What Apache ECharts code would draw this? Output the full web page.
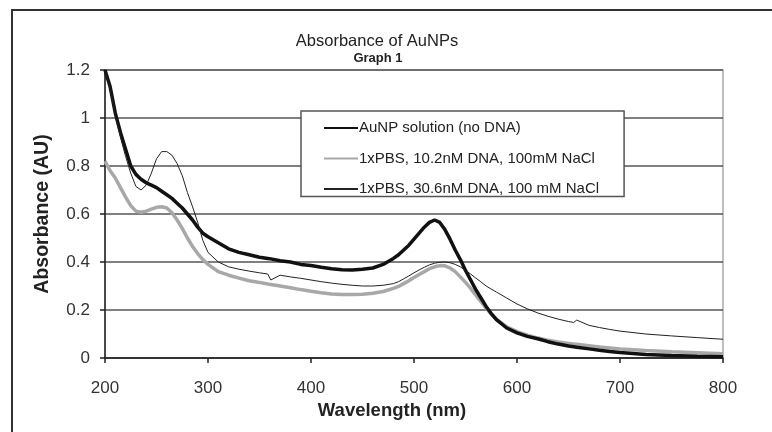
<!DOCTYPE html>
<html>
<head>
<meta charset="utf-8">
<script src="https://cdn.jsdelivr.net/npm/echarts@6/dist/echarts.min.js"></script>
<style>
    html, body { margin: 0; padding: 0; background: #fff; }
    #chart { width: 772px; height: 432px; }
</style>
</head>
<body>
<div id="chart"></div>
<script>
// wavelengths (nm) shared by the three spectra
let wavelengths = [200, 205, 210, 215, 220, 225, 230, 235, 240, 245, 250, 255, 260, 265, 270, 275, 280, 285, 290, 295,
    300, 310, 320, 330, 340, 350, 358, 361, 370, 380, 390, 400, 410, 420, 430, 440, 450, 460, 470, 480,
    485, 490, 495, 500, 505, 510, 515, 520, 525, 530, 535, 540, 545, 550, 555, 560, 565, 570, 575, 580,
    590, 600, 610, 620, 630, 640, 650, 655, 658, 670, 680, 690, 700, 725, 750, 775, 800];

// AuNP solution (no DNA)
let noDna = [1.20, 1.13, 1.02, 0.94, 0.87, 0.80, 0.765, 0.745, 0.73, 0.72, 0.71, 0.695, 0.68, 0.665, 0.645, 0.625, 0.60, 0.575, 0.545, 0.52,
    0.505, 0.48, 0.455, 0.44, 0.43, 0.42, 0.415, 0.413, 0.405, 0.40, 0.39, 0.385, 0.378, 0.372, 0.368, 0.367, 0.37, 0.375, 0.39, 0.415,
    0.43, 0.45, 0.47, 0.495, 0.52, 0.545, 0.565, 0.575, 0.565, 0.535, 0.495, 0.45, 0.41, 0.365, 0.325, 0.285, 0.25, 0.215, 0.185, 0.16,
    0.125, 0.105, 0.09, 0.08, 0.068, 0.058, 0.05, 0.047, 0.045, 0.038, 0.032, 0.027, 0.023, 0.015, 0.01, 0.007, 0.005];

// 1xPBS, 10.2nM DNA, 100mM NaCl
let dna102 = [0.82, 0.78, 0.75, 0.71, 0.67, 0.635, 0.612, 0.607, 0.612, 0.62, 0.628, 0.63, 0.625, 0.605, 0.575, 0.54, 0.50, 0.465, 0.435, 0.41,
    0.39, 0.36, 0.345, 0.333, 0.322, 0.315, 0.308, 0.306, 0.30, 0.293, 0.285, 0.278, 0.272, 0.267, 0.265, 0.265, 0.266, 0.27, 0.277, 0.29,
    0.298, 0.31, 0.322, 0.335, 0.348, 0.36, 0.372, 0.38, 0.385, 0.384, 0.375, 0.36, 0.338, 0.315, 0.29, 0.262, 0.235, 0.208, 0.183, 0.162,
    0.13, 0.11, 0.095, 0.083, 0.074, 0.067, 0.061, 0.058, 0.057, 0.051, 0.046, 0.042, 0.038, 0.031, 0.026, 0.022, 0.018];

// 1xPBS, 30.6nM DNA, 100 mM NaCl
let dna306 = [1.20, 1.12, 1.01, 0.92, 0.84, 0.77, 0.715, 0.70, 0.72, 0.77, 0.83, 0.86, 0.86, 0.845, 0.81, 0.76, 0.69, 0.63, 0.565, 0.49,
    0.44, 0.40, 0.38, 0.37, 0.362, 0.355, 0.35, 0.325, 0.345, 0.338, 0.332, 0.325, 0.318, 0.312, 0.307, 0.303, 0.30, 0.30, 0.303, 0.31,
    0.318, 0.33, 0.342, 0.355, 0.367, 0.378, 0.388, 0.395, 0.399, 0.40, 0.397, 0.39, 0.38, 0.365, 0.35, 0.333, 0.317, 0.30, 0.287, 0.275,
    0.25, 0.225, 0.205, 0.188, 0.174, 0.162, 0.152, 0.148, 0.158, 0.136, 0.127, 0.119, 0.112, 0.10, 0.092, 0.085, 0.078];

let seriesNames = ['AuNP solution (no DNA)', '1xPBS, 10.2nM DNA, 100mM NaCl', '1xPBS, 30.6nM DNA, 100 mM NaCl'];
let yTicks = [0, 0.2, 0.4, 0.6, 0.8, 1, 1.2];
let xTicks = [200, 300, 400, 500, 600, 700, 800];

let font = 'Liberation Sans, Arial, sans-serif';

function pairs(values) {
    return wavelengths.map(function (w, i) { return [w, values[i]]; });
}

let chart = echarts.init(document.getElementById('chart'), null, {renderer: 'canvas'});

let option = {
    backgroundColor: '#fff',
    animation: false,
    title: [{
        text: 'Absorbance of AuNPs',
        left: 372, top: 28, textAlign: 'center',
        textStyle: {fontFamily: font, fontSize: 16.5, fontWeight: 'normal', color: '#222'}
    }, {
        text: 'Graph 1',
        left: 373, top: 47, textAlign: 'center',
        textStyle: {fontFamily: font, fontSize: 13, fontWeight: 'bold', color: '#222'}
    }],
    graphic: [{
        type: 'rect',
        shape: {x: 12, y: 10, width: 800, height: 500},
        style: {fill: 'none', stroke: '#333', lineWidth: 2},
        silent: true
    }],
    grid: {
        left: 105, right: 49, top: 70, bottom: 74,
        show: true, borderColor: '#aaa', borderWidth: 1.5, backgroundColor: 'transparent'
    },
    legend: {
        orient: 'vertical',
        left: 301, top: 111,
        data: seriesNames,
        itemWidth: 34, itemHeight: 14, itemGap: 15.5,
        padding: [9.5, 25, 0, 22],
        backgroundColor: '#fff',
        borderColor: '#555', borderWidth: 1.5,
        itemStyle: {opacity: 0},
        textStyle: {fontFamily: font, fontSize: 15, color: '#222', padding: [0, 0, 0, -4]}
    },
    xAxis: {
        type: 'value',
        min: 200, max: 800, interval: 100,
        name: 'Wavelength (nm)', nameLocation: 'middle', nameGap: 43,
        nameTextStyle: {fontFamily: font, fontSize: 18.5, fontWeight: 'bold', color: '#222', padding: [0, 44, 0, 0]},
        axisLine: {lineStyle: {color: '#222', width: 1.5}},
        axisTick: {show: true, inside: false, length: 5, lineStyle: {color: '#222', width: 1.5}},
        axisLabel: {
            fontFamily: font, fontSize: 17, color: '#333', margin: 22,
            formatter: function (v) { return xTicks.indexOf(v) >= 0 ? String(v) : ''; }
        },
        splitLine: {show: false}
    },
    yAxis: {
        type: 'value',
        min: 0, max: 1.2, interval: 0.2,
        name: 'Absorbance (AU)', nameLocation: 'middle', nameGap: 52,
        nameTextStyle: {fontFamily: font, fontSize: 19.5, fontWeight: 'bold', color: '#222'},
        axisLine: {show: true, lineStyle: {color: '#222', width: 1.5}},
        axisTick: {show: true, inside: false, length: 5, lineStyle: {color: '#222', width: 1.5}},
        axisLabel: {
            fontFamily: font, fontSize: 17, color: '#333', margin: 15,
            formatter: function (v) {
                let t = yTicks.find(function (k) { return Math.abs(k - v) < 1e-6; });
                return t === undefined ? '' : String(t);
            }
        },
        splitLine: {show: true, lineStyle: {color: '#555', width: 1.5}}
    },
    series: [{
        name: seriesNames[0],
        type: 'line',
        data: pairs(noDna),
        symbol: 'none',
        lineStyle: {color: '#111', width: 3.5},
        itemStyle: {color: '#111'},
        z: 3
    }, {
        name: seriesNames[1],
        type: 'line',
        data: pairs(dna102),
        symbol: 'none',
        lineStyle: {color: '#a8a8a8', width: 3.5},
        itemStyle: {color: '#a8a8a8'},
        z: 2
    }, {
        name: seriesNames[2],
        type: 'line',
        data: pairs(dna306),
        symbol: 'none',
        lineStyle: {color: '#222', width: 1},
        itemStyle: {color: '#222'},
        z: 4
    }]
};

chart.setOption(option);
</script>
</body>
</html>
